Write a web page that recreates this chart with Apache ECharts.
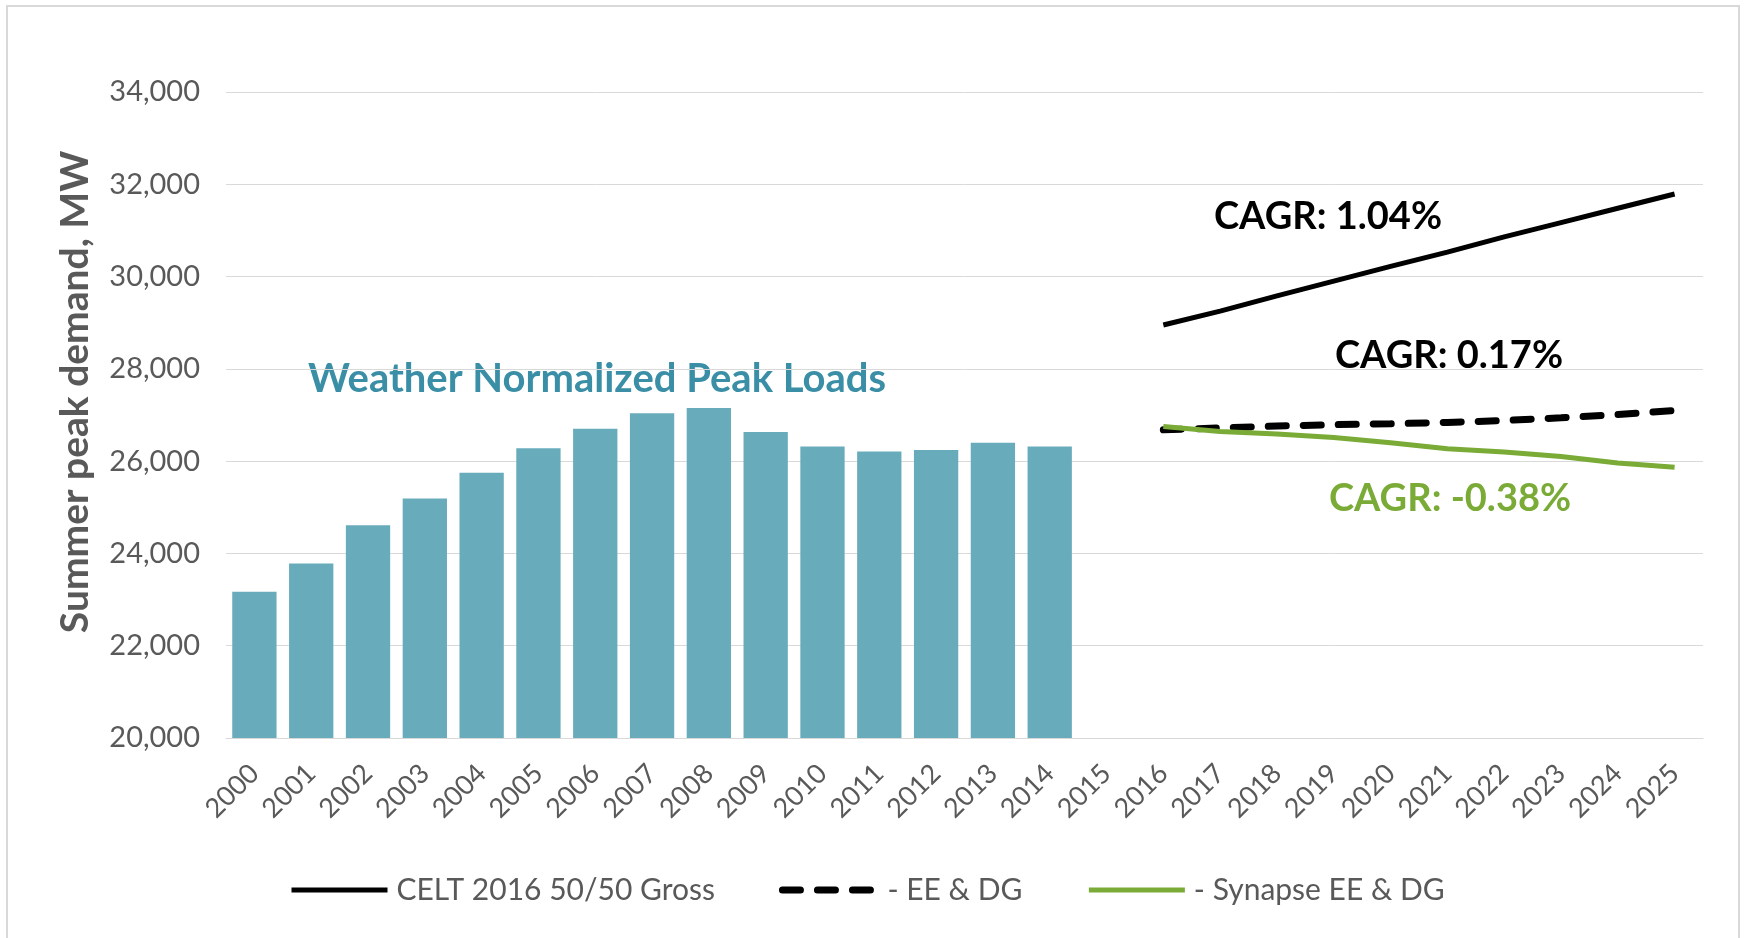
<!DOCTYPE html>
<html>
<head>
<meta charset="utf-8">
<script src="https://cdn.jsdelivr.net/npm/echarts@6/dist/echarts.min.js"></script>
<style>
html,body{margin:0;padding:0;background:#fff;}
#frame{position:absolute;left:6px;top:5px;width:1734px;height:940px;border:2px solid #d9d9d9;box-sizing:border-box;}
#chart{position:absolute;left:0;top:0;width:1745px;height:938px;}
</style>
</head>
<body>
<div id="frame"></div>
<div id="chart"></div>
<script>
const years = ['2000','2001','2002','2003','2004','2005','2006','2007','2008','2009','2010','2011','2012','2013','2014','2015','2016','2017','2018','2019','2020','2021','2022','2023','2024','2025'];
const weatherNormalized = [23170,23780,24610,25190,25750,26280,26700,27040,27150,26630,26320,26210,26240,26400,26320,null,null,null,null,null,null,null,null,null,null,null];
const celtGross = [null,null,null,null,null,null,null,null,null,null,null,null,null,null,null,null,28950,29250,29580,29900,30220,30530,30860,31170,31480,31790];
const eeDg = [null,null,null,null,null,null,null,null,null,null,null,null,null,null,null,null,26680,26720,26760,26790,26810,26840,26880,26940,27010,27100];
const synapseEeDg = [null,null,null,null,null,null,null,null,null,null,null,null,null,null,null,null,26750,26640,26590,26510,26400,26270,26200,26100,25960,25870];
const seriesNames = ['Weather Normalized Peak Loads','CELT 2016 50/50 Gross','- EE & DG','- Synapse EE & DG'];
const annotations = ['CAGR: 1.04%','CAGR: 0.17%','CAGR: -0.38%','Weather Normalized Peak Loads'];
const yAxisTitle = 'Summer peak demand, MW';

const chart = echarts.init(document.getElementById('chart'), null, {renderer:'canvas'});
const font = 'Lato, "Open Sans", sans-serif';
const grey = '#595959';
const green = '#7aab37';
const dash = [18,17];
chart.setOption({
  animation:false,
  backgroundColor:'transparent',
  textStyle:{fontFamily:font},
  grid:{left:226,right:42,top:92,bottom:200,containLabel:false},
  legend:{
    data:[
      {name:seriesNames[1],lineStyle:{width:5,color:'#000',type:'solid'}},
      {name:seriesNames[2],lineStyle:{width:7,color:'#000',type:dash,cap:'round'}},
      {name:seriesNames[3],lineStyle:{width:5,color:green,type:'solid'}}
    ],
    left:284, top:870,
    itemWidth:96, itemHeight:2, itemGap:64,
    itemStyle:{opacity:0},
    textStyle:{fontSize:30,color:grey,fontFamily:font,padding:[0,0,0,4]}
  },
  xAxis:{
    type:'category', data:years,
    axisLine:{lineStyle:{color:'#d9d9d9',width:1}},
    axisTick:{show:false},
    axisLabel:{rotate:45,fontSize:27,color:grey,margin:31,interval:0}
  },
  yAxis:{
    type:'value', min:20000, max:34000, interval:2000,
    axisLine:{show:false}, axisTick:{show:false},
    splitLine:{lineStyle:{color:'#d9d9d9',width:1}},
    axisLabel:{fontSize:29,color:grey,margin:26,formatter:v=>v.toLocaleString('en-US')}
  },
  series:[
    {name:seriesNames[0],type:'bar',data:weatherNormalized,barCategoryGap:'22%',
     itemStyle:{color:'#68acbc'}},
    {name:seriesNames[1],type:'line',data:celtGross,showSymbol:false,symbol:'none',
     lineStyle:{color:'#000',width:5},itemStyle:{color:'#000'}},
    {name:seriesNames[2],type:'line',data:eeDg,showSymbol:false,symbol:'none',
     lineStyle:{color:'#000',width:7,type:dash,cap:'round'},itemStyle:{color:'#000'}},
    {name:seriesNames[3],type:'line',data:synapseEeDg,showSymbol:false,symbol:'none',
     lineStyle:{color:green,width:5},itemStyle:{color:green}}
  ],
  graphic:[
    {type:'text',x:75,y:392,rotation:Math.PI/2,style:{text:yAxisTitle,font:'bold 39px '+font,fill:grey,textAlign:'center',textVerticalAlign:'middle'}},
    {type:'text',x:597,y:379,style:{text:annotations[3],font:'bold 40px '+font,fill:'#3a8ea6',textAlign:'center',textVerticalAlign:'middle'}},
    {type:'text',x:1328,y:217,style:{text:annotations[0],font:'bold 38px '+font,fill:'#000',textAlign:'center',textVerticalAlign:'middle'}},
    {type:'text',x:1449,y:356,style:{text:annotations[1],font:'bold 38px '+font,fill:'#000',textAlign:'center',textVerticalAlign:'middle'}},
    {type:'text',x:1450,y:499,style:{text:annotations[2],font:'bold 38px '+font,fill:green,textAlign:'center',textVerticalAlign:'middle'}}
  ]
});
</script>
</body>
</html>
